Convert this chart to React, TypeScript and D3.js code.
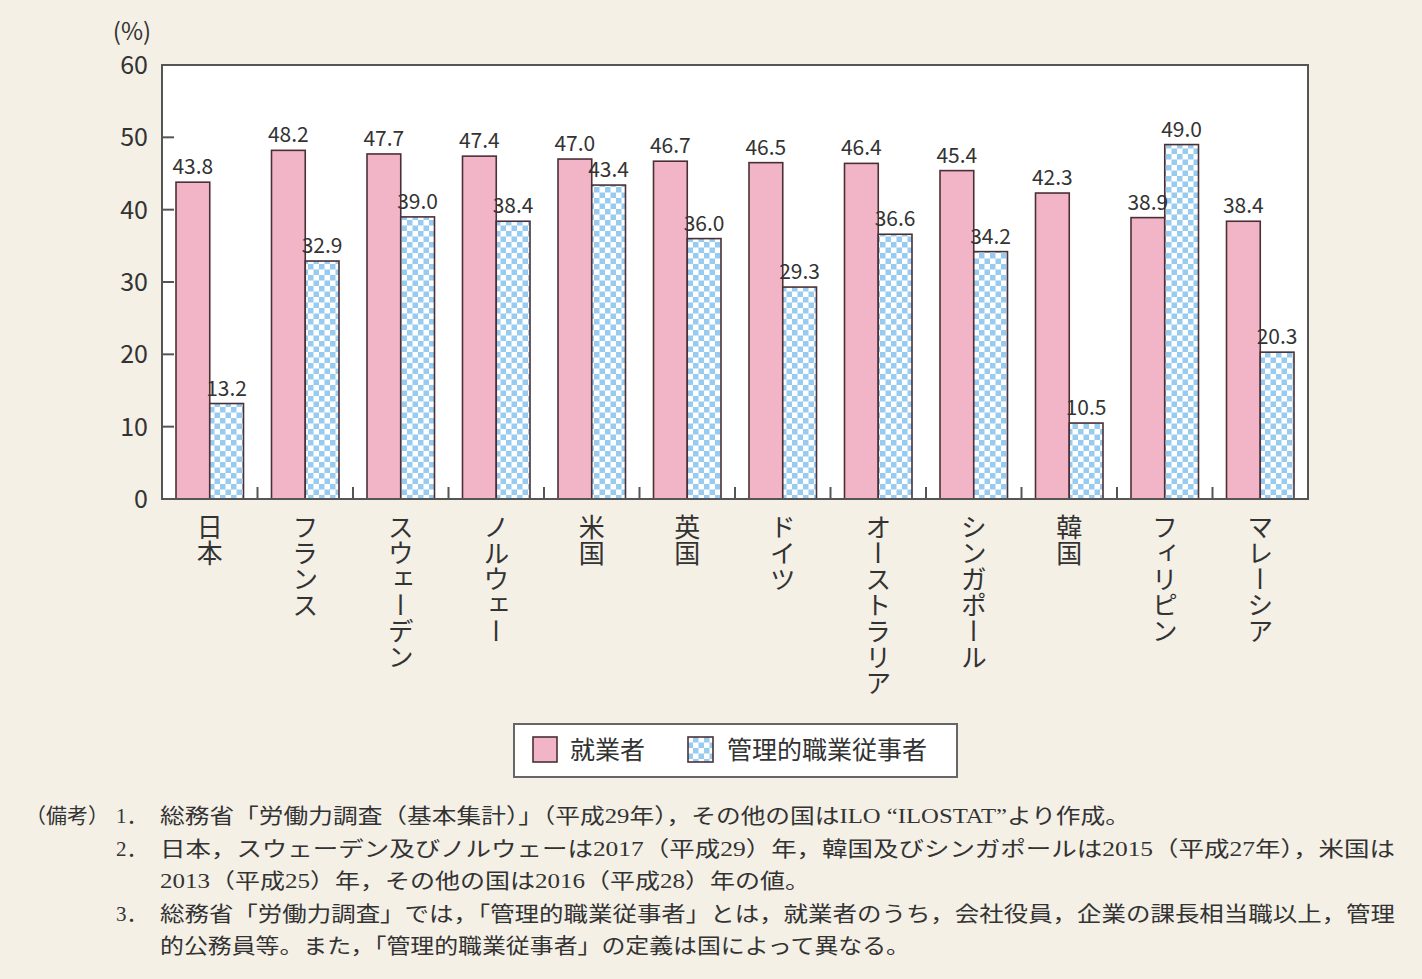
import React from "react";
import * as d3 from "d3";

const countries = ["日本", "フランス", "スウェーデン", "ノルウェー", "米国", "英国", "ドイツ", "オーストラリア", "シンガポール", "韓国", "フィリピン", "マレーシア"];
const employed = [43.8, 48.2, 47.7, 47.4, 47.0, 46.7, 46.5, 46.4, 45.4, 42.3, 38.9, 38.4];
const managers = [13.2, 32.9, 39.0, 38.4, 43.4, 36.0, 29.3, 36.6, 34.2, 10.5, 49.0, 20.3];
const seriesNames = ["就業者", "管理的職業従事者"];
const yTicks = [0, 10, 20, 30, 40, 50, 60];
const notes = [
  "総務省「労働力調査（基本集計）」（平成29年），その他の国はILO “ILOSTAT”より作成。",
  "日本，スウェーデン及びノルウェーは2017（平成29）年，韓国及びシンガポールは2015（平成27年），米国は",
  "2013（平成25）年，その他の国は2016（平成28）年の値。",
  "総務省「労働力調査」では，「管理的職業従事者」とは，就業者のうち，会社役員，企業の課長相当職以上，管理",
  "的公務員等。また，「管理的職業従事者」の定義は国によって異なる。",
];
const noteNums = ["1．", "2．", "", "3．", ""];
const noteWidths = [970, 1235, 650, 1235, 750];

const W = 1422, H = 979;
const L = 162, R = 1308, T = 65, B = 499;
const PINK = "#f1b5c7";
const BLUE = "#97cbf0";
const SANS = "'Noto Sans CJK JP', 'Noto Sans', sans-serif";
const SERIF = "'Liberation Serif', 'Noto Sans CJK JP', serif";

export default function App() {
  const x = d3.scaleBand<string>().domain(countries).range([L, R]).paddingInner(0).paddingOuter(0);
  const xs = d3.scaleBand<string>().domain(seriesNames).range([0, x.bandwidth()]).paddingInner(0).paddingOuter(0.415);
  const y = d3.scaleLinear().domain([0, 60]).range([B, T]);
  const series = [employed, managers];
  const fills = [PINK, "url(#check)"];

  return (
    <svg width={W} height={H} style={{ display: "block", position: "absolute", left: 0, top: 0 }}>
      <defs>
        <pattern id="check" patternUnits="userSpaceOnUse" width={11} height={11}>
          <rect width={11} height={11} fill="#ffffff" />
          <rect x={0} y={0} width={5.5} height={5.5} fill={BLUE} />
          <rect x={5.5} y={5.5} width={5.5} height={5.5} fill={BLUE} />
        </pattern>
      </defs>
      <rect width={W} height={H} fill="#f4f0e6" />
      <rect x={L} y={T} width={R - L} height={B - T} fill="#ffffff" />
      {/* bars */}
      {countries.map((c, i) => (
        <g key={c}>
          {series.map((s, k) => (
            <rect key={k}
              x={(x(c) as number) + (xs(seriesNames[k]) as number)}
              y={y(s[i])}
              width={xs.bandwidth()}
              height={B - y(s[i])}
              fill={fills[k]}
              stroke="#4a3035" strokeWidth={1.6} />
          ))}
        </g>
      ))}
      {/* frame */}
      <rect x={L} y={T} width={R - L} height={B - T} fill="none" stroke="#555" strokeWidth={2} />
      {/* y ticks */}
      {yTicks.map((t) => (
        <g key={t}>
          {t > 0 && t < 60 && <line x1={L} x2={L + 12} y1={y(t)} y2={y(t)} stroke="#555" strokeWidth={2} />}
          <text x={148} y={y(t)} dy="0.36em" textAnchor="end" fontFamily={SANS} fontSize={25} fill="#333">{t}</text>
        </g>
      ))}
      <text x={132} y={31} dy="0.36em" textAnchor="middle" fontFamily={SANS} fontSize={24} fill="#333">(%)</text>
      {/* x ticks */}
      {countries.slice(1).map((c) => (
        <line key={c} x1={x(c)} x2={x(c)} y1={B} y2={B - 12} stroke="#555" strokeWidth={2} />
      ))}
      {/* value labels */}
      {countries.map((c, i) =>
        series.map((s, k) => (
          <text key={c + k}
            x={(x(c) as number) + (xs(seriesNames[k]) as number) + xs.bandwidth() / 2}
            y={y(s[i]) - 8}
            textAnchor="middle" fontFamily={SANS} fontSize={21} fill="#333">
            {s[i].toFixed(1)}
          </text>
        ))
      )}
      {/* category labels */}
      {countries.map((c) => (
        <text key={c} x={(x(c) as number) + x.bandwidth() / 2} y={514}
          fontFamily={SANS} fontSize={26} fill="#333"
          style={{ writingMode: "vertical-rl", textOrientation: "upright" } as any}>
          {c}
        </text>
      ))}
      {/* legend */}
      <rect x={514} y={724} width={443} height={53} fill="#ffffff" stroke="#666" strokeWidth={2} />
      <rect x={533} y={737} width={24} height={25} fill={PINK} stroke="#4a3035" strokeWidth={1.6} />
      <text x={570} y={750} dy="0.36em" fontFamily={SANS} fontSize={25} fill="#333">{seriesNames[0]}</text>
      <rect x={688} y={737} width={25} height={25} fill="url(#check)" stroke="#4a3035" strokeWidth={1.6} />
      <text x={727} y={750} dy="0.36em" fontFamily={SANS} fontSize={25} fill="#333">{seriesNames[1]}</text>
      {/* notes */}
      <text x={25} y={823} fontFamily={SERIF} fontSize={21} fill="#333">（備考）</text>
      {notes.map((n, i) => (
        <g key={i}>
          {noteNums[i] && <text x={116} y={823 + i * 32.5} fontFamily={SERIF} fontSize={21} fill="#333">{noteNums[i]}</text>}
          <text x={160} y={823 + i * 32.5} fontFamily={SERIF} fontSize={21} fill="#333"
            textLength={noteWidths[i]} lengthAdjust="spacingAndGlyphs">{n}</text>
        </g>
      ))}
    </svg>
  );
}
